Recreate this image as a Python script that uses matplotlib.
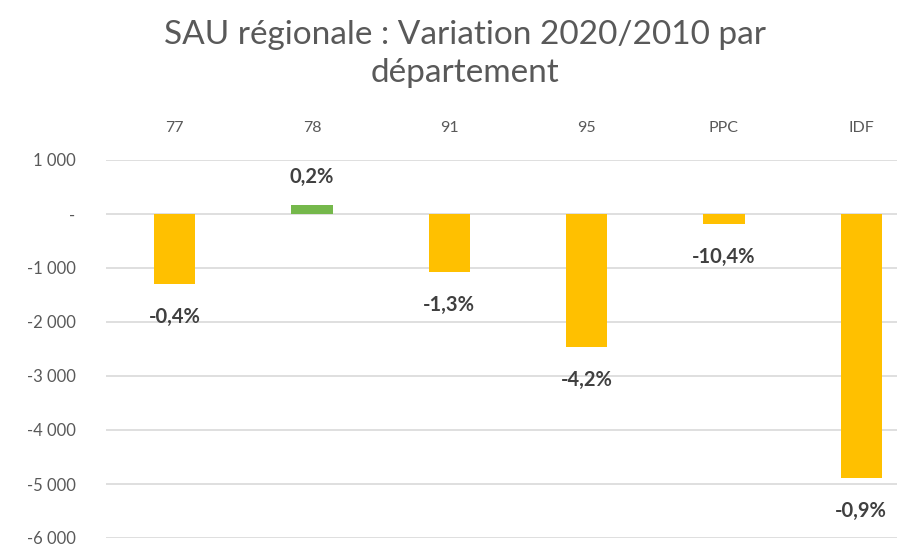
import matplotlib
matplotlib.use("Agg")
import matplotlib.pyplot as plt

categories = ["77", "78", "91", "95", "PPC", "IDF"]
values = [-1300, 170, -1080, -2460, -190, -4890]
pct_labels = ["-0,4%", "0,2%", "-1,3%", "-4,2%", "-10,4%", "-0,9%"]
yticks = [1000, 0, -1000, -2000, -3000, -4000, -5000, -6000]
ytick_labels = ["1 000", "-", "-1 000", "-2 000", "-3 000", "-4 000", "-5 000", "-6 000"]
title = "SAU régionale : Variation 2020/2010 par\ndépartement"

plt.rcParams['font.family'] = ['Lato', 'DejaVu Sans']

fig = plt.figure(figsize=(8.97, 5.48), dpi=100)
ax = fig.add_axes([106/897, (548 - 538)/548, 1 - 106/897, (538 - 160)/548])

x = list(range(len(categories)))
colors = ["#FFC000" if v < 0 else "#75B84B" for v in values]
ax.bar(x, values, width=0.3, color=colors, zorder=3)

for xi, v, lab in zip(x, values, pct_labels):
    off = 28 if v > 0 else -33
    ax.annotate(lab, (xi, v), xytext=(0, off), textcoords='offset pixels',
                ha='center', va='center', fontsize=14.5, fontweight='bold',
                color='#404040', zorder=4)

ax.set_xlim(-0.5, 5.26)
ax.set_ylim(-6000, 1000)
ax.set_yticks(yticks)
ax.set_yticklabels(ytick_labels)
ax.yaxis.grid(True, color='#D9D9D9', linewidth=1.2, zorder=0)
ax.set_axisbelow(True)
ax.tick_params(axis='y', length=0, pad=22, labelsize=12, labelcolor='#595959')

ax.xaxis.tick_top()
ax.set_xticks(x)
ax.set_xticklabels(categories)
ax.tick_params(axis='x', length=0, pad=18, labelsize=11.5, labelcolor='#595959')

for s in ax.spines.values():
    s.set_visible(False)

fig.text(465/897, 1 - 54/548, title, ha='center', va='center', fontsize=24,
         color='#595959', linespacing=1.35)

fig.savefig("out.png", dpi=100)
